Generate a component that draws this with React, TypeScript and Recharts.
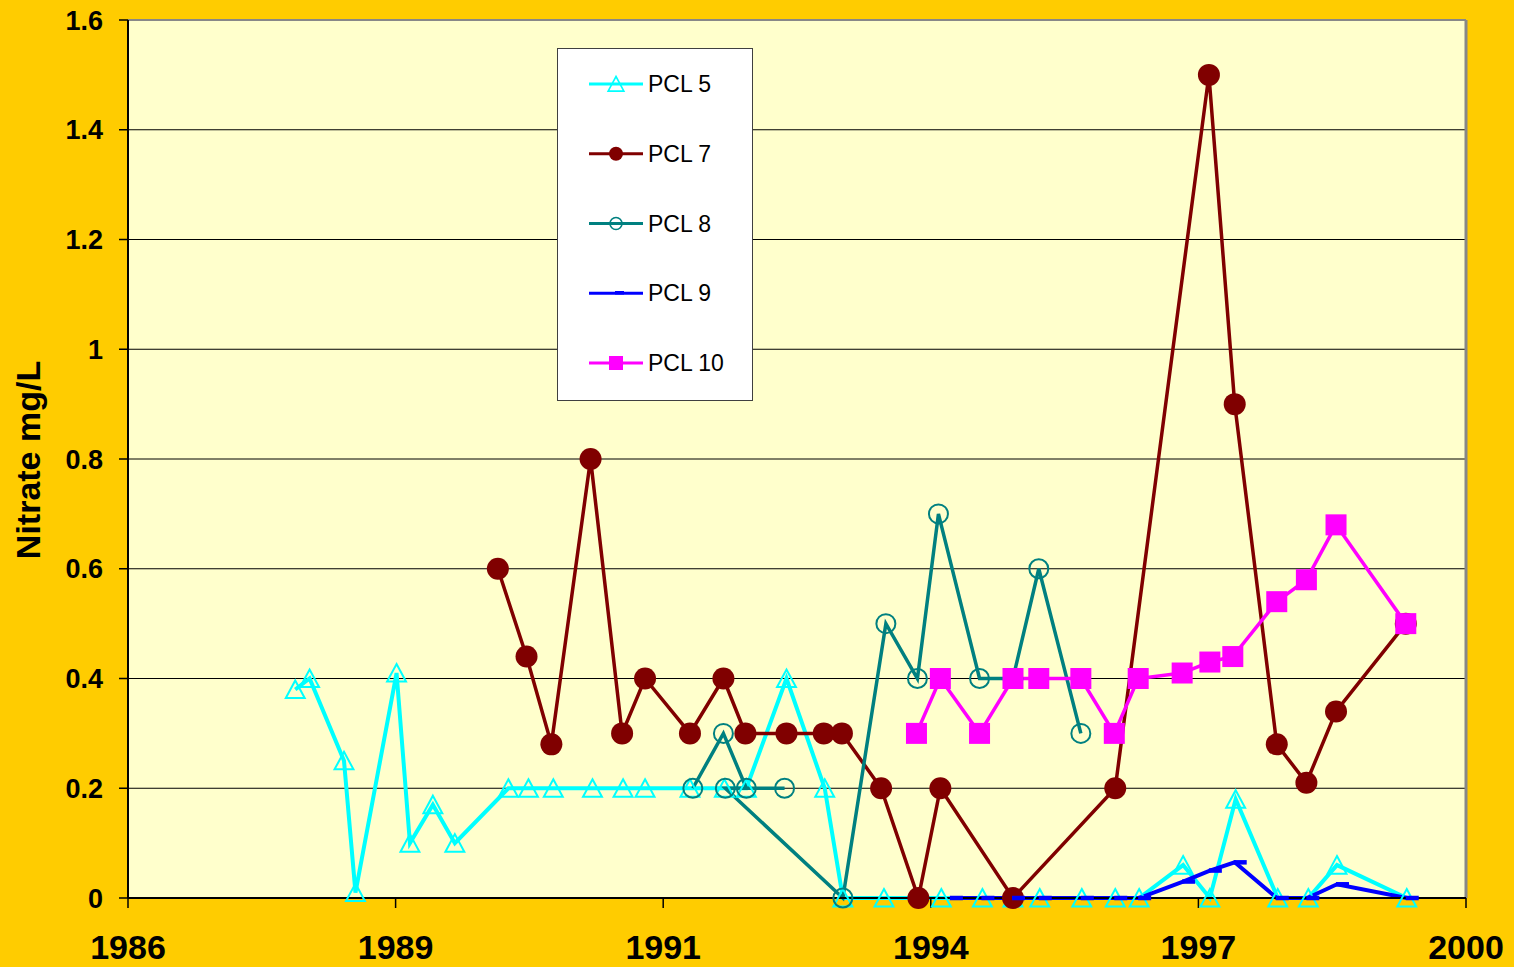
import React from 'react';
import {
  LineChart,
  Line,
  XAxis,
  YAxis,
  CartesianGrid,
  ReferenceLine,
  Legend,
} from 'recharts';

// ---- axis ticks ----
const xTicks = [1986, 1988.8, 1991.6, 1994.4, 1997.2, 2000];
const xTickLabels = ['1986', '1989', '1991', '1994', '1997', '2000'];
const yTicks = [0, 0.2, 0.4, 0.6, 0.8, 1, 1.2, 1.4, 1.6];

// ---- series (sample date as decimal year, nitrate mg/L) ----
const pcl5Dates = [
  1987.75, 1987.9, 1988.26, 1988.38, 1988.81, 1988.95, 1989.19, 1989.42, 1989.98, 1990.19,
  1990.45, 1990.86, 1991.18, 1991.41, 1991.88, 1992.24, 1992.47, 1992.89, 1993.29, 1993.48,
  1993.91, 1994.51, 1994.94, 1995.26, 1995.54, 1995.98, 1996.33, 1996.58, 1997.04, 1997.32,
  1997.59, 1998.03, 1998.35, 1998.65, 1999.38,
];
const pcl5Values = [
  0.38, 0.4, 0.25, 0.01, 0.41, 0.1, 0.17, 0.1, 0.2, 0.2,
  0.2, 0.2, 0.2, 0.2, 0.2, 0.2, 0.2, 0.4, 0.2, 0,
  0, 0, 0, 0, 0, 0, 0, 0, 0.06, 0,
  0.18, 0, 0, 0.06, 0,
];

const pcl7Dates = [
  1989.87, 1990.17, 1990.43, 1990.84, 1991.17, 1991.41, 1991.88, 1992.23, 1992.46, 1992.89,
  1993.28, 1993.47, 1993.88, 1994.27, 1994.5, 1995.26, 1996.33, 1997.31, 1997.58, 1998.02,
  1998.33, 1998.64, 1999.37,
];
const pcl7Values = [
  0.6, 0.44, 0.28, 0.8, 0.3, 0.4, 0.3, 0.4, 0.3, 0.3,
  0.3, 0.3, 0.2, 0, 0.2, 0, 0.2, 1.5, 0.9, 0.28,
  0.21, 0.34, 0.5,
];

// listed in sheet order (not strictly by date)
const pcl8Dates = [
  1991.91, 1992.23, 1992.47, 1992.87, 1992.25, 1993.48, 1993.93, 1994.26, 1994.48, 1994.91,
  1995.26, 1995.53, 1995.97,
];
const pcl8Values = [0.2, 0.3, 0.2, 0.2, 0.2, 0, 0.5, 0.4, 0.7, 0.4, 0.4, 0.6, 0.3];

const pcl9Dates = [
  1994.61, 1994.94, 1995.26, 1995.54, 1995.98, 1996.33, 1996.58, 1997.04, 1997.32, 1997.58,
  1998.02, 1998.34, 1998.65, 1999.38,
];
const pcl9Values = [0, 0, 0, 0, 0, 0, 0, 0.03, 0.05, 0.065, 0, 0, 0.025, 0];

const pcl10Dates = [
  1994.25, 1994.5, 1994.91, 1995.26, 1995.53, 1995.97, 1996.32, 1996.57, 1997.03, 1997.32,
  1997.56, 1998.02, 1998.33, 1998.64, 1999.37,
];
const pcl10Values = [0.3, 0.4, 0.3, 0.4, 0.4, 0.4, 0.3, 0.4, 0.41, 0.43, 0.44, 0.54, 0.58, 0.68, 0.5];

const seriesNames = ['PCL 5', 'PCL 7', 'PCL 8', 'PCL 9', 'PCL 10'];

// ---- styling ----
const FONT = '"Liberation Sans", Arial, Helvetica, sans-serif';
const CYAN = '#00FFFF';
const MAROON = '#800000';
const TEAL = '#008080';
const BLUE = '#0000FF';
const MAGENTA = '#FF00FF';

const toPoints = (dates: number[], values: number[]) =>
  dates.map((x, i) => ({ x, y: values[i] }));

const pcl5 = toPoints(pcl5Dates, pcl5Values);
const pcl7 = toPoints(pcl7Dates, pcl7Values);
const pcl8 = toPoints(pcl8Dates, pcl8Values);
const pcl9 = toPoints(pcl9Dates, pcl9Values);
const pcl10 = toPoints(pcl10Dates, pcl10Values);

// ---- marker shapes ----
const triangle = (cx: number, cy: number, s: number) =>
  `M${cx},${cy - s}L${cx + s * 1.05},${cy + s * 0.95}L${cx - s * 1.05},${cy + s * 0.95}Z`;

const TriangleDot = (p: any) => {
  if (p.cx == null || p.cy == null) return <g key={`t${p.index}`} />;
  return (
    <path key={`t${p.index}`} d={triangle(p.cx, p.cy, 9)} fill="none" stroke={CYAN} strokeWidth={2} />
  );
};

const FilledCircleDot = (p: any) => {
  if (p.cx == null || p.cy == null) return <g key={`c${p.index}`} />;
  return <circle key={`c${p.index}`} cx={p.cx} cy={p.cy} r={11} fill={MAROON} stroke="none" />;
};

const OpenCircleDot = (p: any) => {
  if (p.cx == null || p.cy == null) return <g key={`o${p.index}`} />;
  return (
    <circle key={`o${p.index}`} cx={p.cx} cy={p.cy} r={9.5} fill="none" stroke={TEAL} strokeWidth={2} />
  );
};

const DashDot = (p: any) => {
  if (p.cx == null || p.cy == null) return <g key={`d${p.index}`} />;
  return (
    <line key={`d${p.index}`} x1={p.cx - 1} y1={p.cy} x2={p.cx + 12} y2={p.cy} stroke={BLUE} strokeWidth={4.5} />
  );
};

const SquareDot = (p: any) => {
  if (p.cx == null || p.cy == null) return <g key={`s${p.index}`} />;
  return <rect key={`s${p.index}`} x={p.cx - 10.5} y={p.cy - 10.5} width={21} height={21} fill={MAGENTA} />;
};

// ---- legend box ----
const legendColors = [CYAN, MAROON, TEAL, BLUE, MAGENTA];

const LegendMarker = ({ i, cx, cy }: { i: number; cx: number; cy: number }) => {
  switch (i) {
    case 0:
      return <path d={triangle(cx, cy, 7.5)} fill="none" stroke={CYAN} strokeWidth={1.6} />;
    case 1:
      return <circle cx={cx} cy={cy} r={7} fill={MAROON} />;
    case 2:
      return <circle cx={cx} cy={cy} r={6} fill="none" stroke={TEAL} strokeWidth={1.6} />;
    case 3:
      return <line x1={cx - 1} y1={cy - 0.5} x2={cx + 8} y2={cy - 0.5} stroke={BLUE} strokeWidth={3.5} />;
    default:
      return <rect x={cx - 7} y={cy - 7} width={14} height={14} fill={MAGENTA} />;
  }
};

const LegendBox = () => (
  <svg width={196} height={353} style={{ display: 'block' }}>
    <rect x={0.5} y={0.5} width={195} height={352} fill="#FFFFFF" stroke="#404040" strokeWidth={1} />
    {seriesNames.map((name, i) => {
      const cy = 36 + i * 69.75;
      return (
        <g key={name}>
          <line x1={32} y1={cy} x2={86} y2={cy} stroke={legendColors[i]} strokeWidth={3} />
          <LegendMarker i={i} cx={59} cy={cy} />
          <text x={91} y={cy + 8} fontSize={23} fontFamily={FONT} fill="#000">
            {name}
          </text>
        </g>
      );
    })}
  </svg>
);

const YTitle = () => (
  <text
    x={39.5}
    y={460}
    transform="rotate(-90, 39.5, 460)"
    textAnchor="middle"
    fontSize={34}
    fontWeight={700}
    fontFamily={FONT}
    fill="#000"
  >
    Nitrate mg/L
  </text>
);

export default function App() {
  return (
    <div
      style={{
        position: 'absolute',
        left: 0,
        top: 0,
        width: 1514,
        height: 967,
        background: '#FFCC00',
        overflow: 'hidden',
      }}
    >
      <LineChart width={1514} height={967} margin={{ top: 20, right: 48, bottom: 0, left: 0 }}>
        <CartesianGrid horizontal vertical={false} stroke="#000" strokeWidth={1} fill="#FFFFCC" />
        <XAxis
          type="number"
          dataKey="x"
          domain={[1986, 2000]}
          ticks={xTicks}
          tickFormatter={(v: number) => xTickLabels[xTicks.indexOf(v)] ?? ''}
          height={69}
          axisLine={{ stroke: '#000', strokeWidth: 2 }}
          tickLine={{ stroke: '#000', strokeWidth: 1.5 }}
          tickSize={10}
          tickMargin={27}
          tick={{ fontSize: 34, fontWeight: 700, fill: '#000', fontFamily: FONT }}
          interval={0}
        />
        <YAxis
          type="number"
          domain={[0, 1.6]}
          ticks={yTicks}
          width={128}
          axisLine={{ stroke: '#000', strokeWidth: 2 }}
          tickLine={{ stroke: '#000', strokeWidth: 1.5 }}
          tickSize={9}
          tickMargin={16}
          tick={{ fontSize: 27, fontWeight: 700, fill: '#000', fontFamily: FONT }}
          interval={0}
          label={{ content: () => <YTitle /> }}
        />
        <ReferenceLine y={1.6} stroke="#888888" strokeWidth={2} />
        <ReferenceLine x={2000} stroke="#888888" strokeWidth={3} />
        <Legend
          layout="vertical"
          align="center"
          verticalAlign="middle"
          content={() => <LegendBox />}
          wrapperStyle={{ position: 'absolute', left: 557, top: 48, width: 196, height: 353 }}
        />
        <Line
          data={pcl5}
          dataKey="y"
          name={seriesNames[0]}
          type="linear"
          stroke={CYAN}
          strokeWidth={4}
          dot={TriangleDot}
          activeDot={false}
          isAnimationActive={false}
        />
        <Line
          data={pcl7}
          dataKey="y"
          name={seriesNames[1]}
          type="linear"
          stroke={MAROON}
          strokeWidth={3.5}
          dot={FilledCircleDot}
          activeDot={false}
          isAnimationActive={false}
        />
        <Line
          data={pcl8}
          dataKey="y"
          name={seriesNames[2]}
          type="linear"
          stroke={TEAL}
          strokeWidth={3.5}
          dot={OpenCircleDot}
          activeDot={false}
          isAnimationActive={false}
        />
        <Line
          data={pcl9}
          dataKey="y"
          name={seriesNames[3]}
          type="linear"
          stroke={BLUE}
          strokeWidth={4}
          dot={DashDot}
          activeDot={false}
          isAnimationActive={false}
        />
        <Line
          data={pcl10}
          dataKey="y"
          name={seriesNames[4]}
          type="linear"
          stroke={MAGENTA}
          strokeWidth={3.5}
          dot={SquareDot}
          activeDot={false}
          isAnimationActive={false}
        />
      </LineChart>
    </div>
  );
}
